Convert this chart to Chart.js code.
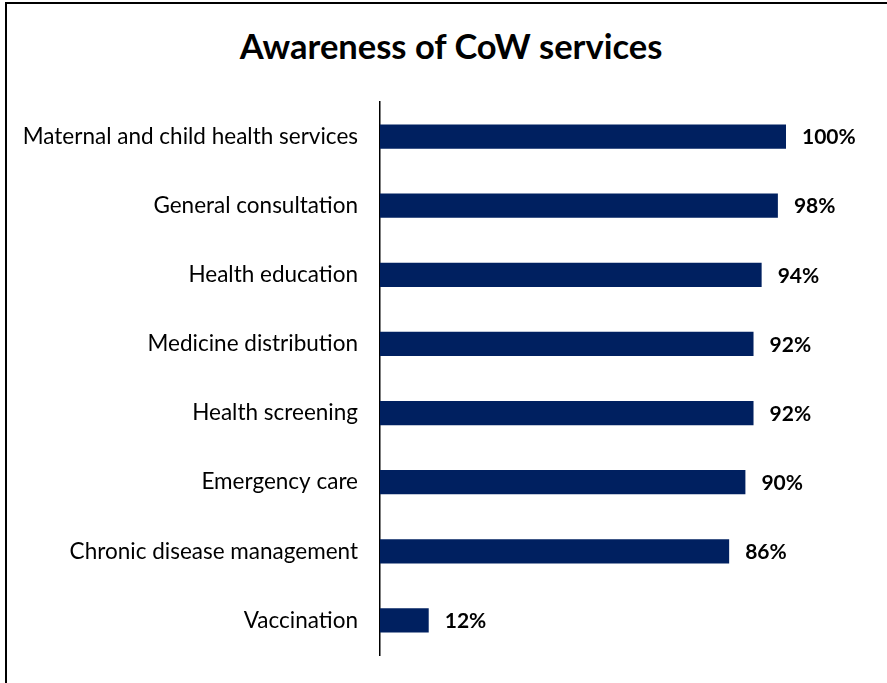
<!DOCTYPE html>
<html>
<head>
<meta charset="utf-8">
<script src="https://cdn.jsdelivr.net/npm/chart.js@4.4.1/dist/chart.umd.min.js"></script>
<style>
  html, body { margin: 0; padding: 0; background: #fff; }
  #wrap { position: relative; width: 887px; height: 683px; overflow: hidden; }
  #frame {
    position: absolute; left: 5px; top: 2px; width: 900px; height: 700px;
    border-left: 2px solid #000; border-top: 2px solid #000;
  }
  #titulo {
    position: absolute; left: 0; top: 25px; width: 902px; text-align: center;
    font-family: Lato, sans-serif; font-weight: bold; font-size: 34.5px; color: #000;
  }
  canvas { position: absolute; left: 0; top: 0; }
</style>
</head>
<body>
<div id="wrap">
  <div id="frame"></div>
  <div id="titulo">Awareness of CoW services</div>
  <canvas id="servicosChart" width="887" height="683"></canvas>
</div>
<script>
const servicos = [
    'Maternal and child health services',
    'General consultation',
    'Health education',
    'Medicine distribution',
    'Health screening',
    'Emergency care',
    'Chronic disease management',
    'Vaccination'
];
const percentuais = [100, 98, 94, 92, 92, 90, 86, 12];

// escreve o valor de cada barra logo depois do fim dela
const rotuloValores = {
    id: 'rotuloValores',
    afterDatasetsDraw(chart) {
        const ctx = chart.ctx;
        const meta = chart.getDatasetMeta(0);
        ctx.save();
        ctx.font = 'bold 21px Lato, sans-serif';
        ctx.fillStyle = '#000';
        ctx.textAlign = 'left';
        ctx.textBaseline = 'middle';
        meta.data.forEach((barra, i) => {
            ctx.fillText(percentuais[i] + '%', barra.x + 16, barra.y + 1);
        });
        ctx.restore();
    }
};

const graficoServicos = document.getElementById('servicosChart');
new Chart(graficoServicos, {
    type: 'bar',
    data: {
        labels: servicos,
        datasets: [{
            label: '',
            data: percentuais,
            backgroundColor: '#002060',
            borderWidth: 0,
            categoryPercentage: 1,
            barPercentage: 0.35
        }]
    },
    options: {
        indexAxis: 'y',
        responsive: false,
        animation: false,
        layout: {
            padding: { top: 102, right: 101, bottom: 28, left: 0 }
        },
        scales: {
            x: {
                display: false,
                min: 0,
                max: 100
            },
            y: {
                afterFit: (escala) => { escala.width = 380; },
                // marcas invisíveis só para afastar os nomes do eixo
                grid: {
                    display: true,
                    drawOnChartArea: false,
                    drawTicks: true,
                    tickLength: 22,
                    tickColor: 'rgba(0,0,0,0)'
                },
                border: { display: true, color: '#000', width: 1.5 },
                ticks: {
                    padding: 0,
                    color: '#000',
                    font: { family: 'Lato, sans-serif', size: 22.5 }
                }
            }
        },
        plugins: {
            legend: { display: false },
            tooltip: { enabled: false }
        }
    },
    plugins: [rotuloValores]
});
</script>
</body>
</html>
